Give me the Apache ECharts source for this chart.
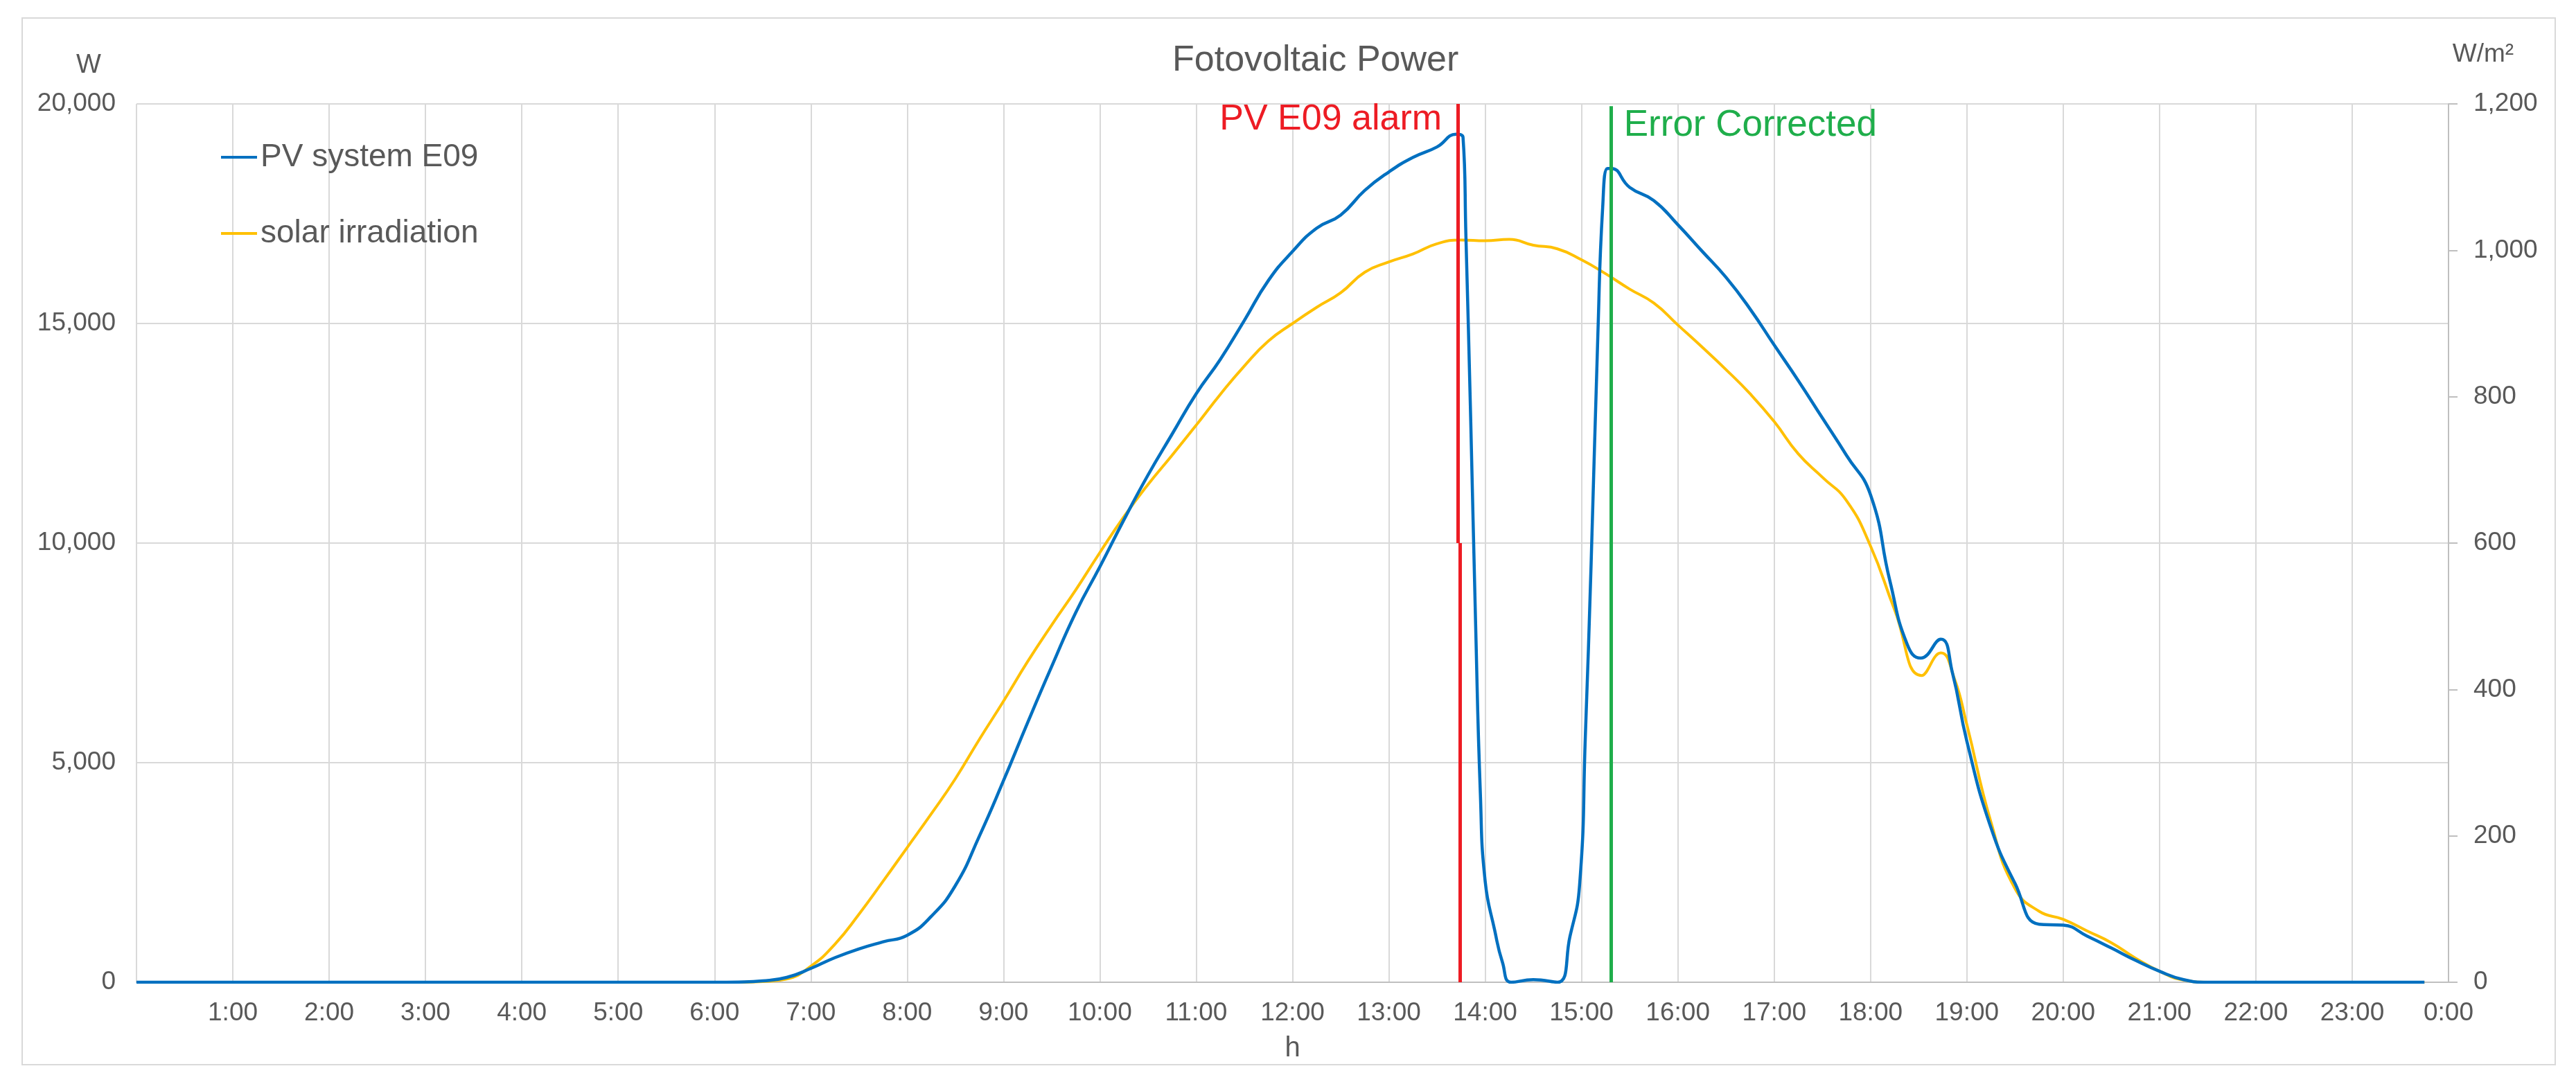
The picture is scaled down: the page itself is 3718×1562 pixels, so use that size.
<!DOCTYPE html>
<html>
<head>
<meta charset="utf-8">
<script src="https://cdn.jsdelivr.net/npm/echarts@6/dist/echarts.min.js"></script>
<style>
html,body{margin:0;padding:0;background:#fff;}
#chart{width:3718px;height:1562px;}
</style>
</head>
<body>
<div id="chart"></div>
<script>
// ---- data ----
const xTickLabels = ['', '1:00', '2:00', '3:00', '4:00', '5:00', '6:00', '7:00', '8:00', '9:00', '10:00', '11:00', '12:00',
  '13:00', '14:00', '15:00', '16:00', '17:00', '18:00', '19:00', '20:00', '21:00', '22:00', '23:00', '0:00'];

const hoursPV = [0, 1, 2, 3, 4, 5, 6, 6.25, 6.5, 6.75, 7, 7.25, 7.5, 7.75, 8, 8.25, 8.5, 8.75, 9, 9.25, 9.5, 9.75,
  10, 10.25, 10.5, 10.75, 11, 11.25, 11.5, 11.75, 12, 12.25, 12.5, 12.75, 13, 13.25, 13.5, 13.7, 13.77, 13.8, 13.85,
  13.9, 13.95, 14, 14.1, 14.18, 14.27, 14.5, 14.75, 14.88, 14.98, 15.04, 15.1, 15.17, 15.22, 15.27, 15.31, 15.5,
  15.75, 16, 16.25, 16.5, 16.75, 17, 17.25, 17.5, 17.75, 18, 18.2, 18.38, 18.52, 18.73, 18.85, 19, 19.25, 19.5,
  19.75, 20, 20.25, 20.5, 20.75, 21, 21.25, 21.5, 22, 23, 23.75];
const powerPV = [0, 0, 0, 0, 0, 0, 0, 5, 30, 110, 315, 560, 760, 920, 1070, 1500, 2200, 3330, 4590, 5910, 7190, 8420,
  9460, 10530, 11550, 12480, 13400, 14180, 15070, 15980, 16640, 17170, 17470, 18030, 18450, 18780, 19020, 19310, 19240, 17000, 12800,
  8230, 4300, 2300, 1170, 450, 0, 60, 0, 1040, 2210, 5610, 9540, 14760, 17650, 18530, 18530, 18100,
  17800, 17250, 16650, 16050, 15330, 14510, 13700, 12850, 12000, 11100, 9150, 7700, 7380, 7810, 7050, 5490, 3520, 2250,
  1320, 1300, 1050, 780, 500, 250, 60, 0, 0, 0, 0];

const hoursIrr = [0, 1, 2, 3, 4, 5, 6, 6.25, 6.5, 6.75, 7, 7.25, 7.5, 7.75, 8, 8.25, 8.5, 8.75, 9, 9.25, 9.5, 9.75,
  10, 10.25, 10.5, 10.75, 11, 11.25, 11.5, 11.75, 12, 12.25, 12.5, 12.75, 13, 13.25, 13.5, 13.75, 14, 14.25, 14.5,
  14.75, 15, 15.25, 15.5, 15.75, 16, 16.25, 16.5, 16.75, 17, 17.25, 17.5, 17.75, 18, 18.25, 18.53, 18.73, 18.87,
  19, 19.25, 19.5, 19.75, 20, 20.25, 20.5, 20.75, 21, 21.25, 21.5, 22, 23, 23.75];
const irradiation = [0, 0, 0, 0, 0, 0, 0, 0, 1, 4.5, 22, 52, 93, 138, 184, 230, 278, 332, 384, 438, 488, 536,
  587, 636, 680, 720, 761, 803, 842, 876, 900, 922, 942, 970, 984, 995, 1009, 1014, 1013, 1015, 1007,
  1002, 987, 968, 947, 928, 898, 868, 837, 804, 766, 722, 690, 658, 596, 509, 419, 450, 415,
  352, 219, 128, 97, 86, 70, 54, 33, 15, 3, 0, 0, 0, 0];

const alarmHour = 13.73;
const correctedHour = 15.31;

// ---- styles ----
const BLUE = '#0070C0', YELLOW = '#FFC000', RED = '#ED1C24', GREEN = '#1FAE4B';
const TEXT = '#595959', GRID = '#d9d9d9', AXIS = '#bfbfbf';
const FONT = '"Liberation Sans", Arial, sans-serif';

const fmtComma = v => String(v).replace(/\B(?=(\d{3})+(?!\d))/g, ',');

const chart = echarts.init(document.getElementById('chart'), null, {renderer: 'canvas'});

const option = {
  animation: false,
  backgroundColor: '#ffffff',
  textStyle: {fontFamily: FONT},
  title: {
    text: 'Fotovoltaic Power',
    left: 1687, top: 57,
    textStyle: {fontSize: 52, fontWeight: 'normal', color: TEXT, fontFamily: FONT}
  },
  legend: {
    orient: 'vertical',
    left: 314, top: 198,
    itemWidth: 52, itemHeight: 4, itemGap: 62,
    icon: 'rect',
    textStyle: {fontSize: 46, color: TEXT, fontFamily: FONT, lineHeight: 48},
    data: ['PV system E09', 'solar irradiation']
  },
  grid: {left: 197, right: 184, top: 150, bottom: 144, containLabel: false},
  xAxis: {
    type: 'value', min: 0, max: 24, interval: 1,
    name: 'h', nameLocation: 'middle', nameGap: 76,
    nameTextStyle: {fontSize: 40, color: TEXT, fontFamily: FONT},
    axisLine: {show: true, lineStyle: {color: AXIS, width: 2}},
    axisTick: {show: false},
    axisLabel: {fontSize: 37, color: TEXT, margin: 26, fontFamily: FONT,
      formatter: v => xTickLabels[Math.round(v)] || ''},
    splitLine: {show: true, lineStyle: {color: GRID, width: 2}}
  },
  yAxis: [{
    type: 'value', min: 0, max: 20000, interval: 5000,
    name: 'W', nameLocation: 'end', nameGap: 36,
    nameTextStyle: {fontSize: 38, color: TEXT, fontFamily: FONT, align: 'center', padding: [0, 138, 0, 0]},
    axisLine: {show: false}, axisTick: {show: false},
    axisLabel: {fontSize: 37, color: TEXT, margin: 30, fontFamily: FONT, formatter: fmtComma},
    splitLine: {show: true, lineStyle: {color: GRID, width: 2}}
  }, {
    type: 'value', min: 0, max: 1200, interval: 200, position: 'right',
    name: 'W/m²', nameLocation: 'end', nameGap: 53,
    nameTextStyle: {fontSize: 37, color: TEXT, fontFamily: FONT, align: 'center', padding: [0, 0, 0, 100]},
    axisLine: {show: true, lineStyle: {color: AXIS, width: 2}},
    axisTick: {show: true, inside: false, length: 13, lineStyle: {color: AXIS, width: 2}},
    axisLabel: {fontSize: 37, color: TEXT, margin: 36, fontFamily: FONT, formatter: fmtComma},
    splitLine: {show: false}
  }],
  series: [{
    name: 'PV system E09',
    type: 'line', yAxisIndex: 0,
    data: hoursPV.map((h, i) => [h, powerPV[i]]),
    showSymbol: false, symbol: 'none',
    smooth: 0.5,
    lineStyle: {color: BLUE, width: 4.5},
    itemStyle: {color: BLUE},
    z: 3,
    markLine: {
      silent: true, symbol: 'none', animation: false,
      label: {show: false},
      data: [
        [{coord: [alarmHour - 0.01, 20000], lineStyle: {color: RED, width: 5, type: 'solid'}}, {coord: [alarmHour - 0.01, 10000]}],
        [{coord: [alarmHour + 0.01, 10000], lineStyle: {color: RED, width: 5, type: 'solid'}}, {coord: [alarmHour + 0.01, 0]}],
        [{coord: [correctedHour, 19950], lineStyle: {color: GREEN, width: 5, type: 'solid'}}, {coord: [correctedHour, 0]}]
      ]
    }
  }, {
    name: 'solar irradiation',
    type: 'line', yAxisIndex: 1,
    data: hoursIrr.map((h, i) => [h, irradiation[i]]),
    showSymbol: false, symbol: 'none',
    smooth: 0.5,
    lineStyle: {color: YELLOW, width: 4},
    itemStyle: {color: YELLOW},
    z: 2
  }]
};

chart.setOption(option);

// annotation texts placed relative to the event lines
const alarmX = chart.convertToPixel({xAxisIndex: 0}, alarmHour);
const corrX = chart.convertToPixel({xAxisIndex: 0}, correctedHour);
const topY = chart.convertToPixel({yAxisIndex: 0}, 20000);
chart.setOption({
  graphic: [
    {type: 'rect', silent: true, z: -10,
      shape: {x: 32, y: 26, width: 3656, height: 1511},
      style: {fill: 'none', stroke: GRID, lineWidth: 2}},
    {type: 'text', silent: true, z: 20,
      x: alarmX - 25, y: topY + 23,
      style: {text: 'PV E09 alarm', fill: RED, font: '52px ' + FONT, textAlign: 'right', textVerticalAlign: 'middle'}},
    {type: 'text', silent: true, z: 20,
      x: corrX + 18, y: topY + 31,
      style: {text: 'Error Corrected', fill: GREEN, font: '53px ' + FONT, textAlign: 'left', textVerticalAlign: 'middle'}}
  ]
});
</script>
</body>
</html>
